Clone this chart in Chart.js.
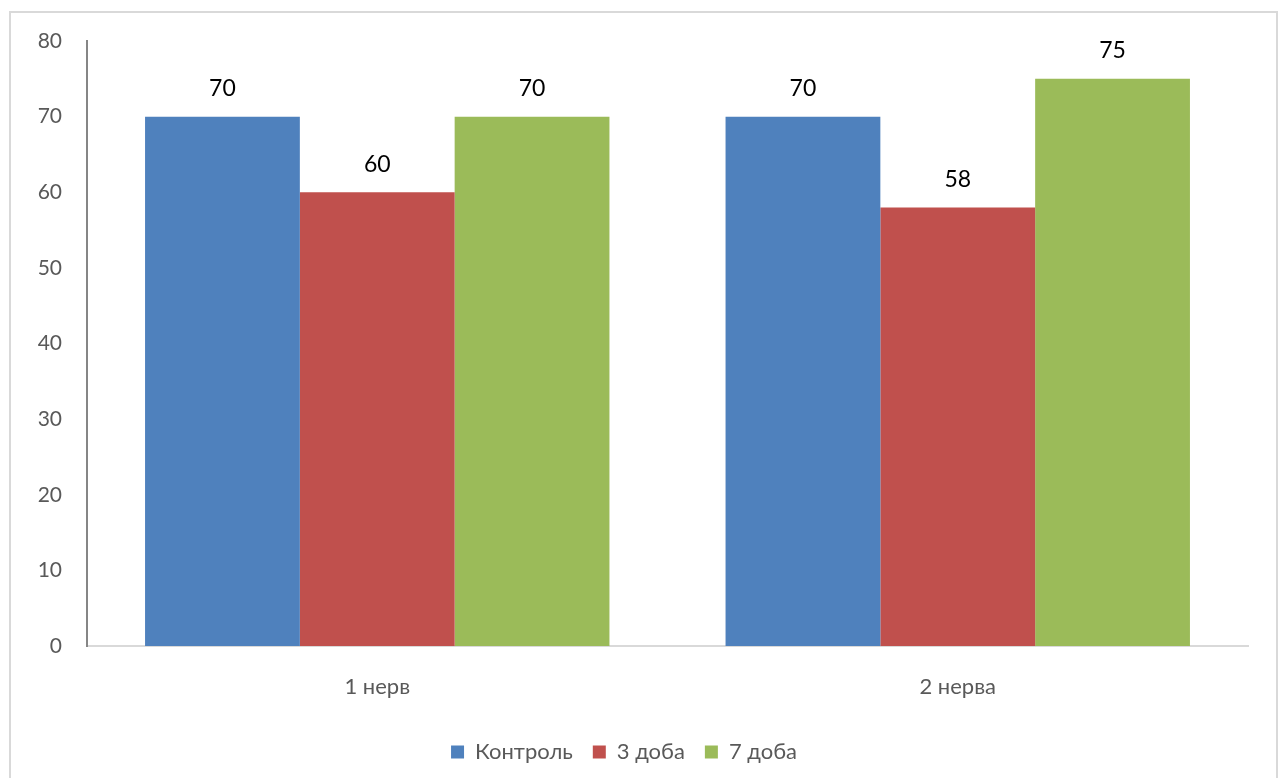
<!DOCTYPE html>
<html>
<head>
<meta charset="utf-8">
<script src="https://cdn.jsdelivr.net/npm/chart.js@4/dist/chart.umd.min.js"></script>
<style>
  html, body { margin: 0; padding: 0; background: #fff; }
  #wrap { width: 1283px; height: 778px; position: relative; }
</style>
</head>
<body>
<div id="wrap"><canvas id="chart"></canvas></div>
<script>
"use strict";

const categories = ['1 нерв', '2 нерва'];
const seriesNames = ['Контроль', '3 доба', '7 доба'];
const controlValues = [70, 70];
const day3Values = [60, 58];
const day7Values = [70, 75];
const yTicks = [0, 10, 20, 30, 40, 50, 60, 70, 80];

const colors = ['#4F81BD', '#C0504D', '#9BBB59'];
const FONT = 'Lato, "Open Sans", sans-serif';

/* light frame around the whole chart */
const framePlugin = {
    id: 'frame',
    beforeDraw(chart) {
        const ctx = chart.ctx;
        ctx.save();
        ctx.strokeStyle = '#d9d9d9';
        ctx.lineWidth = 2;
        ctx.strokeRect(10, 12, 1267, 820);
        ctx.restore();
    }
};

/* value printed above every bar */
const valueLabels = {
    id: 'valueLabels',
    afterDatasetsDraw(chart) {
        const ctx = chart.ctx;
        ctx.save();
        ctx.font = '23px ' + FONT;
        ctx.fillStyle = '#000';
        ctx.textAlign = 'center';
        ctx.textBaseline = 'middle';
        chart.data.datasets.forEach((ds, i) => {
            chart.getDatasetMeta(i).data.forEach((bar, j) => {
                ctx.fillText(ds.data[j], bar.x, bar.y - 28);
            });
        });
        ctx.restore();
    }
};

const chart = new Chart(document.getElementById('chart'), {
    type: 'bar',
    data: {
        labels: categories,
        datasets: [controlValues, day3Values, day7Values].map((values, i) => ({
            label: seriesNames[i],
            data: values,
            backgroundColor: colors[i],
            borderWidth: 0,
            categoryPercentage: 0.8,
            barPercentage: 1.0
        }))
    },
    options: {
        responsive: true,
        maintainAspectRatio: false,
        animation: false,
        layout: {
            padding: { left: 0, top: 41, right: 35, bottom: 5 }
        },
        plugins: {
            legend: {
                position: 'bottom',
                labels: {
                    boxWidth: 13,
                    boxHeight: 13,
                    padding: 20,
                    color: '#595959',
                    font: { family: FONT, size: 22 }
                }
            },
            tooltip: { enabled: false }
        },
        scales: {
            x: {
                grid: { display: false, drawTicks: false },
                border: { display: true, color: '#d9d9d9', width: 2 },
                ticks: {
                    color: '#595959',
                    padding: 28,
                    font: { family: FONT, size: 22 }
                },
                afterFit: (scale) => { scale.height = 75; }
            },
            y: {
                min: 0,
                max: 80,
                afterBuildTicks: (scale) => { scale.ticks = yTicks.map(v => ({ value: v })); },
                grid: { display: false, drawTicks: false },
                border: { display: true, color: '#868686', width: 2 },
                ticks: {
                    color: '#595959',
                    padding: 25,
                    font: { family: FONT, size: 21 }
                },
                afterFit: (scale) => { scale.width = 87; }
            }
        }
    },
    plugins: [framePlugin, valueLabels]
});
</script>
</body>
</html>
